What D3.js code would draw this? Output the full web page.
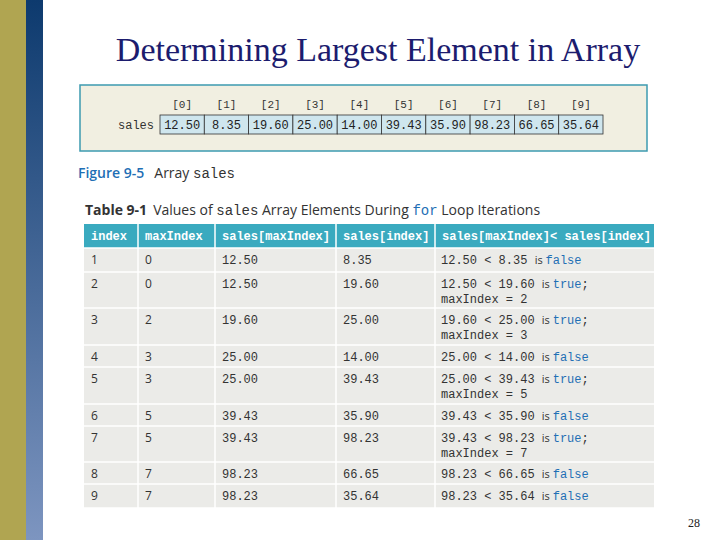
<!DOCTYPE html>
<html lang="en">
<head>
  <meta charset="UTF-8">
  <title>Determining Largest Element in Array</title>
  <script src="https://d3js.org/d3.v7.min.js"></script>
  <style>
    body { margin: 0; padding: 0; background: white; }
    .mono { font-family: "Liberation Mono", "DejaVu Sans Mono", monospace; }
    .sans { font-family: "Open Sans", "Liberation Sans", sans-serif; }
  </style>
</head>
<body>
  <script>
    // Array values shown in Figure 9-5
    const indices = ["[0]", "[1]", "[2]", "[3]", "[4]", "[5]", "[6]", "[7]", "[8]", "[9]"];
    const sales = ["12.50", "8.35", "19.60", "25.00", "14.00", "39.43", "35.90", "98.23", "66.65", "35.64"];

    // Table 9-1 columns
    const headers = ["index", "maxIndex", "sales[maxIndex]", "sales[index]", "sales[maxIndex]< sales[index]"];
    const idxCol = [1, 2, 3, 4, 5, 6, 7, 8, 9];
    const maxIdxCol = [0, 0, 2, 3, 3, 5, 5, 7, 7];
    const salesMaxCol = ["12.50", "12.50", "19.60", "25.00", "25.00", "39.43", "39.43", "98.23", "98.23"];
    const salesIdxCol = ["8.35", "19.60", "25.00", "14.00", "39.43", "35.90", "98.23", "66.65", "35.64"];
    const results = [false, true, true, false, true, false, true, false, false];
    const newMax = [null, 2, 3, null, 5, null, 7, null, null];

    const width = 720, height = 540;
    const svg = d3.select("body").append("svg").attr("width", width).attr("height", height);

    // side bands
    const grad = svg.append("defs").append("linearGradient").attr("id", "side")
      .attr("x1", 0).attr("y1", 0).attr("x2", 0).attr("y2", 1);
    grad.append("stop").attr("offset", "0%").attr("stop-color", "#0d3a6e");
    grad.append("stop").attr("offset", "100%").attr("stop-color", "#7d95c0");
    svg.append("rect").attr("x", 0).attr("y", 0).attr("width", 26).attr("height", height).attr("fill", "#b0a551");
    svg.append("rect").attr("x", 26).attr("y", 0).attr("width", 17).attr("height", height).attr("fill", "url(#side)");

    svg.append("text").attr("x", 378).attr("y", 61).attr("text-anchor", "middle")
      .attr("font-family", "Liberation Serif, serif").attr("font-size", 34).attr("fill", "#1c1c6e")
      .text("Determining Largest Element in Array");

    // Figure box
    svg.append("rect").attr("x", 80).attr("y", 85).attr("width", 567).attr("height", 66)
      .attr("fill", "#f1efe1").attr("stroke", "#3d9bb0").attr("stroke-width", 1.5);

    const xCell = d3.scaleBand().domain(d3.range(sales.length)).range([160, 603]);
    svg.append("text").attr("class", "mono").attr("x", 154).attr("y", 129).attr("text-anchor", "end")
      .attr("font-size", 12).attr("fill", "#333").text("sales");
    const cells = svg.append("g").selectAll("g").data(sales).join("g");
    cells.append("rect").attr("x", (d, i) => xCell(i)).attr("y", 115).attr("width", xCell.bandwidth()).attr("height", 19)
      .attr("fill", "#cfe6ee").attr("stroke", "#333").attr("stroke-width", 0.8);
    cells.append("text").attr("class", "mono").attr("x", (d, i) => xCell(i) + xCell.bandwidth() / 2).attr("y", 129)
      .attr("text-anchor", "middle").attr("font-size", 12).attr("fill", "#222").text(d => d);
    svg.append("g").selectAll("text").data(indices).join("text").attr("class", "mono")
      .attr("x", (d, i) => xCell(i) + xCell.bandwidth() / 2).attr("y", 108)
      .attr("text-anchor", "middle").attr("font-size", 11).attr("fill", "#333").text(d => d);

    svg.append("text").attr("class", "sans").attr("x", 78).attr("y", 178).attr("font-size", 14)
      .call(t => {
        t.append("tspan").attr("fill", "#1f6fb5").attr("font-weight", 600).text("Figure 9-5");
        t.append("tspan").attr("fill", "#333").attr("dx", 10).text("Array ");
        t.append("tspan").attr("class", "mono").attr("fill", "#333").text("sales");
      });

    svg.append("text").attr("class", "sans").attr("x", 85).attr("y", 215).attr("font-size", 14).attr("fill", "#333")
      .call(t => {
        t.append("tspan").attr("font-weight", 700).text("Table 9-1");
        t.append("tspan").attr("dx", 6).text("Values of ");
        t.append("tspan").attr("class", "mono").text("sales");
        t.append("tspan").text(" Array Elements During ");
        t.append("tspan").attr("class", "mono").attr("fill", "#1f6fb5").text("for");
        t.append("tspan").text(" Loop Iterations");
      });

    // Table
    const colX = [84, 138, 215, 336, 435, 654];
    const rowTops = [248, 272, 308, 345, 367, 404, 426, 462, 484, 508];
    svg.append("rect").attr("x", colX[0]).attr("y", 224).attr("width", colX[5] - colX[0]).attr("height", 24).attr("fill", "#3aaabf");
    svg.append("g").selectAll("text").data(headers).join("text").attr("class", "mono")
      .attr("x", (d, i) => colX[i] + 7).attr("y", 240).attr("font-size", 12).attr("font-weight", 700)
      .attr("fill", "white").text(d => d);

    const rows = svg.append("g").selectAll("g").data(idxCol).join("g");
    rows.append("rect").attr("x", colX[0]).attr("y", (d, i) => rowTops[i]).attr("width", colX[5] - colX[0])
      .attr("height", (d, i) => rowTops[i + 1] - rowTops[i]).attr("fill", "#ebebe8");
    const cols = [idxCol, maxIdxCol, salesMaxCol, salesIdxCol];
    cols.forEach((col, c) => {
      rows.append("text").attr("class", c < 2 ? "sans" : "mono").attr("x", colX[c] + 7)
        .attr("y", (d, i) => rowTops[i] + 16).attr("font-size", 12).attr("fill", "#333")
        .text((d, i) => col[i]);
    });
    rows.append("text").attr("class", "mono").attr("x", colX[4] + 6).attr("y", (d, i) => rowTops[i] + 16)
      .attr("font-size", 12).attr("fill", "#333")
      .each(function (d, i) {
        const t = d3.select(this);
        t.append("tspan").text(salesMaxCol[i] + " < " + salesIdxCol[i] + " ");
        t.append("tspan").attr("class", "sans").attr("font-size", 11).text("is ");
        t.append("tspan").attr("fill", "#1f6fb5").text(results[i] ? "true" : "false");
        if (results[i]) t.append("tspan").text(";");
      });
    rows.filter((d, i) => newMax[i] !== null).append("text").attr("class", "mono").attr("x", colX[4] + 6)
      .attr("font-size", 12).attr("fill", "#333")
      .attr("y", d => rowTops[d - 1] + 31).text(d => "maxIndex = " + newMax[d - 1]);

    // grid lines
    svg.append("g").selectAll("line").data(rowTops).join("line")
      .attr("x1", colX[0]).attr("x2", colX[5]).attr("y1", d => d).attr("y2", d => d)
      .attr("stroke", "white").attr("stroke-width", 1.5);
    svg.append("g").selectAll("line").data(colX.slice(1, 5)).join("line")
      .attr("x1", d => d).attr("x2", d => d).attr("y1", 224).attr("y2", 508)
      .attr("stroke", "white").attr("stroke-width", 1.5);

    svg.append("text").attr("x", 700).attr("y", 527).attr("text-anchor", "end")
      .attr("font-family", "Liberation Serif, serif").attr("font-size", 12).attr("fill", "#222").text("28");
  </script>
</body>
</html>
